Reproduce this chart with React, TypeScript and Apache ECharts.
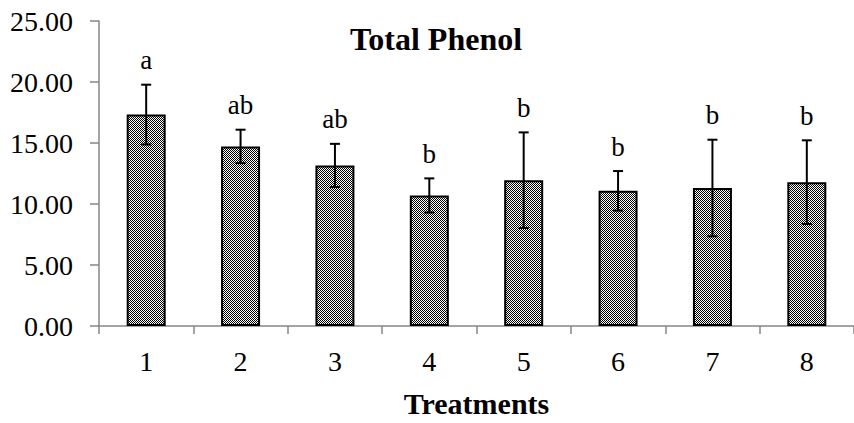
import React, { useEffect, useRef } from "react";
import * as echarts from "echarts";

const categories = ["1", "2", "3", "4", "5", "6", "7", "8"];
const means = [17.33, 14.72, 13.16, 10.7, 11.95, 11.08, 11.31, 11.79];
const errors = [2.45, 1.37, 1.77, 1.4, 3.92, 1.62, 3.96, 3.43];
const letters = ["a", "ab", "ab", "b", "b", "b", "b", "b"];
const yTicks = [0, 5, 10, 15, 20, 25];

const FONT = "'Liberation Serif', 'Times New Roman', serif";
const AXIS_GRAY = "#868686";

function makePattern(): HTMLCanvasElement {
  const c = document.createElement("canvas");
  c.width = 2;
  c.height = 2;
  const ctx = c.getContext("2d")!;
  ctx.fillStyle = "#ffffff";
  ctx.fillRect(0, 0, 2, 2);
  ctx.fillStyle = "#000000";
  ctx.fillRect(0, 0, 1, 1);
  ctx.fillRect(1, 1, 1, 1);
  return c;
}

export default function App() {
  const ref = useRef<HTMLDivElement>(null);
  useEffect(() => {
    if (!ref.current) return;
    const chart = echarts.init(ref.current, undefined, { renderer: "svg" });
    const pattern = makePattern();
    const errData = means.map((m, i) => [i, m, errors[i]]);
    chart.setOption({
      animation: false,
      backgroundColor: "#ffffff",
      textStyle: { fontFamily: FONT },
      grid: { left: 99, top: 21, width: 757, height: 314, containLabel: false },
      graphic: [
        {
          type: "text",
          x: 436,
          y: 39,
          style: {
            text: "Total Phenol",
            font: `bold 32px ${FONT}`,
            fill: "#000",
            textAlign: "center",
            textVerticalAlign: "middle",
          },
        },
      ],
      xAxis: {
        type: "category",
        data: categories,
        boundaryGap: true,
        name: "Treatments",
        nameLocation: "middle",
        nameGap: 62,
        nameTextStyle: { fontFamily: FONT, fontSize: 30, fontWeight: "bold", color: "#000" },
        axisLine: { show: true, lineStyle: { color: AXIS_GRAY, width: 1.5 } },
        axisTick: { show: true, alignWithLabel: false, length: 8, lineStyle: { color: AXIS_GRAY, width: 1.5 } },
        axisLabel: { margin: 21, fontFamily: FONT, fontSize: 28, color: "#000" },
        splitLine: { show: false },
      },
      yAxis: {
        type: "value",
        min: yTicks[0],
        max: yTicks[yTicks.length - 1],
        interval: 5,
        axisLine: { show: true, lineStyle: { color: AXIS_GRAY, width: 1.5 } },
        axisTick: { show: true, length: 9, lineStyle: { color: AXIS_GRAY, width: 1.5 } },
        axisLabel: {
          margin: 26,
          fontFamily: FONT,
          fontSize: 28,
          color: "#000",
          formatter: (v: number) => v.toFixed(2),
        },
        splitLine: { show: false },
      },
      series: [
        {
          type: "bar",
          data: means,
          barWidth: 39,
          itemStyle: {
            color: { image: pattern, repeat: "repeat" },
            borderColor: "#000",
            borderWidth: 2,
          },
        },
        {
          type: "custom",
          data: errData,
          z: 10,
          renderItem: (params: any, api: any) => {
            const idx = api.value(0);
            const m = api.value(1);
            const e = api.value(2);
            const top = api.coord([idx, m + e]);
            const bot = api.coord([idx, m - e]);
            const x = top[0];
            const half = 5;
            const ls = { stroke: "#000", lineWidth: 2 };
            return {
              type: "group",
              children: [
                { type: "line", shape: { x1: x, y1: top[1], x2: x, y2: bot[1] }, style: ls },
                { type: "line", shape: { x1: x - half, y1: top[1], x2: x + half, y2: top[1] }, style: ls },
                { type: "line", shape: { x1: x - half, y1: bot[1], x2: x + half, y2: bot[1] }, style: ls },
                {
                  type: "text",
                  x: x,
                  y: top[1] - 11,
                  style: {
                    text: letters[idx],
                    font: `27px ${FONT}`,
                    fill: "#000",
                    textAlign: "center",
                    textVerticalAlign: "bottom",
                  },
                },
              ],
            };
          },
        },
      ],
    });
    return () => chart.dispose();
  }, []);
  return (
    <div
      ref={ref}
      style={{ position: "fixed", left: 0, top: 0, width: 854, height: 423, background: "#fff" }}
    />
  );
}
